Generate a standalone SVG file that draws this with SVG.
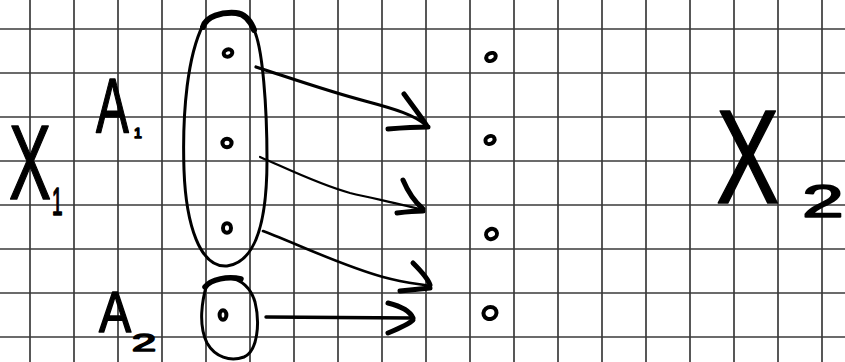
<svg xmlns="http://www.w3.org/2000/svg" width="845" height="362" viewBox="0 0 845 362">
<style>
.grid line{stroke:#3a3a3a;stroke-width:1.7}
.ink{fill:none;stroke:#000;stroke-linecap:round;stroke-linejoin:round}
.dot{fill:none;stroke:#000;stroke-width:4}
.lbl{font-family:"Liberation Sans",Arial,sans-serif;fill:#000;stroke:#000;stroke-width:1.6;stroke-linejoin:round}
</style>
<rect width="845" height="362" fill="#fff"/>
<g class="grid">
<line x1="30" y1="0" x2="30" y2="362"/><line x1="74" y1="0" x2="74" y2="362"/><line x1="118" y1="0" x2="118" y2="362"/><line x1="162" y1="0" x2="162" y2="362"/><line x1="206" y1="0" x2="206" y2="362"/><line x1="250" y1="0" x2="250" y2="362"/><line x1="294" y1="0" x2="294" y2="362"/><line x1="338" y1="0" x2="338" y2="362"/><line x1="382" y1="0" x2="382" y2="362"/><line x1="426" y1="0" x2="426" y2="362"/><line x1="470" y1="0" x2="470" y2="362"/><line x1="514" y1="0" x2="514" y2="362"/><line x1="558" y1="0" x2="558" y2="362"/><line x1="602" y1="0" x2="602" y2="362"/><line x1="646" y1="0" x2="646" y2="362"/><line x1="690" y1="0" x2="690" y2="362"/><line x1="734" y1="0" x2="734" y2="362"/><line x1="778" y1="0" x2="778" y2="362"/><line x1="822" y1="0" x2="822" y2="362"/>
<line x1="0" y1="29" x2="845" y2="29"/><line x1="0" y1="73" x2="845" y2="73"/><line x1="0" y1="117" x2="845" y2="117"/><line x1="0" y1="161" x2="845" y2="161"/><line x1="0" y1="205" x2="845" y2="205"/><line x1="0" y1="249" x2="845" y2="249"/><line x1="0" y1="293" x2="845" y2="293"/><line x1="0" y1="337" x2="845" y2="337"/>
</g>
<g id="label-X1">
<text class="lbl" transform="translate(9,199) scale(0.594,1)" x="0" y="0" font-size="106">X</text>
<text class="lbl" transform="translate(52,215) scale(0.5,1)" x="0" y="0" font-size="38" stroke-width="3">1</text>
</g>
<g id="label-A1">
<text class="lbl" transform="translate(96,133) scale(0.63,1)" x="0" y="0" font-size="78">A</text>
<text class="lbl" x="134" y="138" font-size="14" stroke-width="0.6">1</text>
</g>
<g id="label-A2">
<text class="lbl" transform="translate(99,332) scale(0.83,1)" x="0" y="0" font-size="58">A</text>
<text class="lbl" transform="translate(132,351) scale(1.8,1)" x="0" y="0" font-size="24" stroke-width="1.8">2</text>
</g>
<g id="label-X2">
<text class="lbl" transform="translate(716,203) scale(0.71,1)" x="0" y="0" font-size="134">X</text>
<text class="lbl" transform="translate(802,217) scale(1.6,1)" x="0" y="0" font-size="47" stroke-width="2.4">2</text>
</g>
<g id="A1">
<path class="ink" stroke-width="3" d="M253,28 C263,45 267,110 267,160 C267,215 258,262 227,266 C200,268 186,225 184,170 C182,110 188,55 203,25"/>
<path class="ink" stroke-width="6" d="M203,27 C206,16 222,12 236,13 C246,14 251,22 254,30"/>
<ellipse class="dot" cx="228" cy="53" rx="4.4" ry="3.6" transform="rotate(-20 228 53)"/>
<ellipse class="dot" cx="227" cy="143" rx="4.6" ry="4.2"/>
<ellipse class="dot" cx="227" cy="228" rx="4" ry="4.8"/>
</g>
<g id="A2">
<path class="ink" stroke-width="3" d="M207,284 C202,300 198,325 207,343 C215,357 230,362 244,357 C258,351 260,322 255,302 C251,288 241,279 229,278"/>
<path class="ink" stroke-width="5.5" d="M205,287 C211,279 228,276 241,279"/>
<ellipse class="dot" cx="223" cy="315" rx="3.4" ry="4.8"/>
</g>
<g id="B1"><ellipse class="dot" cx="491" cy="57" rx="5" ry="3.8" transform="rotate(-25 491 57)"/></g>
<g id="B2"><ellipse class="dot" cx="490" cy="140" rx="4.8" ry="3.8" transform="rotate(-25 490 140)"/></g>
<g id="B3"><ellipse class="dot" cx="491.5" cy="234" rx="5.6" ry="5" transform="rotate(-30 491.5 234)" stroke-width="4.4"/></g>
<g id="B4"><ellipse class="dot" cx="490" cy="313" rx="6.6" ry="6" transform="rotate(-20 490 313)" stroke-width="3.6"/></g>
<g id="connectors">
<path class="ink" stroke-width="3.2" d="M256,67 C290,78 330,92 365,101 C395,109 415,115 427,126"/>
<path class="ink" stroke-width="5" d="M404,94 C412,105 420,115 427,126 M388,129 C400,128 415,127 428,127"/>
<path class="ink" stroke-width="2.2" d="M260,157 C290,170 320,185 350,193 C380,200 405,205 423,210"/>
<path class="ink" stroke-width="5" d="M403,180 C408,192 415,202 423,209 M397,213 C405,212 415,211 423,211"/>
<path class="ink" stroke-width="2.6" d="M263,231 C300,245 340,265 383,277 C405,283 420,284 430,286"/>
<path class="ink" stroke-width="5" d="M413,263 C420,270 428,278 430,285 M400,291 C410,290 420,289 430,288"/>
<path class="ink" stroke-width="3.4" d="M266,317 L412,318"/>
<path class="ink" stroke-width="5" d="M388,303 C400,306 410,311 413,318 M388,333 C400,328 410,323 413,320"/>
</g>
</svg>
